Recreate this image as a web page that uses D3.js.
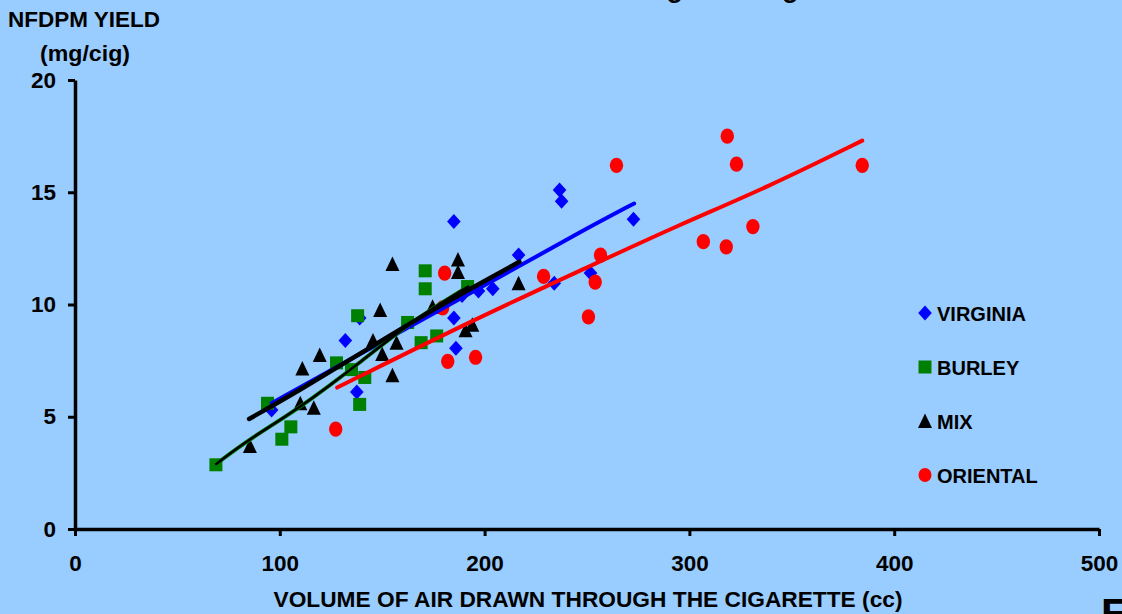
<!DOCTYPE html>
<html>
<head>
<meta charset="utf-8">
<script src="https://cdn.jsdelivr.net/npm/d3@7"></script>
<style>
  body { margin: 0; background: #99ccff; overflow: hidden; }
  svg text { font-family: "Liberation Sans", Arial, sans-serif; font-weight: bold; fill: #000; }
</style>
</head>
<body>
<div id="chart-area"></div>
<script>
// data: [volume (cc), NFDPM yield (mg/cig)]
var virginia = [[96, 5.3], [132, 8.4], [139, 9.4], [137.6, 6.1], [185, 13.7], [185, 9.4],
  [186, 8.05], [189, 10.4], [197, 10.6], [204, 10.7], [216.6, 12.2], [234, 10.95],
  [236.6, 15.1], [237.6, 14.6], [251.7, 11.4], [272.7, 13.8]];
var burley = [[68.8, 2.86], [94, 5.6], [101, 4.0], [105.4, 4.55], [127.7, 7.4], [135, 7.1],
  [138, 9.5], [139, 5.55], [141.5, 6.75], [162.4, 9.2], [169, 8.3], [171, 11.5],
  [171, 10.7], [176.6, 8.6], [191.7, 10.8]];
var mix = [[85.4, 3.7], [110, 5.6], [111, 7.15], [116.6, 5.4], [119.5, 7.75], [145.5, 8.4],
  [149, 9.75], [150, 7.8], [155, 11.8], [155, 6.85], [157, 8.3], [174.6, 9.9], [187, 12.0],
  [187, 11.45], [190.7, 8.85], [194, 9.1], [216.6, 10.95]];
var oriental = [[127.3, 4.45], [179.5, 9.85], [180.5, 11.4], [182, 7.47], [195.6, 7.65],
  [228.8, 11.25], [250.7, 9.45], [254, 11.0], [256.6, 12.2], [264.4, 16.2], [306.8, 12.8],
  [318, 12.57], [318.5, 17.5], [323, 16.25], [331, 13.47], [384.4, 16.2]];

// fitted curves as drawn in the picture
var virginiaFit = [[96, 5.6], [139, 7.8], [207, 11.2], [246, 13.2], [273, 14.5]];
var burleyFit = [[69, 2.9], [85, 4.0], [110, 5.4], [139, 7.4], [165, 9.3], [192, 10.8]];
var mixFit = [[85, 4.9], [110, 6.2], [139, 7.8], [175, 9.8], [217, 11.9]];
var orientalFit = [[128, 6.3], [197.6, 9.45], [250, 11.65], [295, 13.55], [337.6, 15.2], [384.4, 17.3]];

var seriesNames = ["VIRGINIA", "BURLEY", "MIX", "ORIENTAL"];
var xTicks = [0, 100, 200, 300, 400, 500];
var yTicks = [0, 5, 10, 15, 20];

var W = 1122, H = 614;
var svg = d3.select("#chart-area").append("svg")
  .attr("width", W).attr("height", H);

svg.append("rect").attr("width", W).attr("height", H).attr("fill", "#99ccff");

var x = d3.scaleLinear().domain([0, 500]).range([75, 1099]);
var y = d3.scaleLinear().domain([0, 20]).range([529, 80]);

// title (cut off at the top of the picture, only descenders show)
svg.append("text")
  .attr("x", 596).attr("y", -3)
  .attr("text-anchor", "middle")
  .attr("font-size", "27px")
  .text("Volume of Air Drawn Through the Cigarette");

// axes
var yAxis = svg.append("g")
  .attr("transform", "translate(75,0)")
  .call(d3.axisLeft(y).tickValues(yTicks).tickSize(7).tickSizeOuter(0).tickPadding(12));
var xAxis = svg.append("g")
  .attr("transform", "translate(0,529)")
  .call(d3.axisBottom(x).tickValues(xTicks).tickSize(7).tickSizeOuter(0).tickPadding(19));

[xAxis, yAxis].forEach(function(a) {
  a.select(".domain").attr("stroke", "#000").attr("stroke-width", 3.5);
  a.selectAll(".tick line").attr("stroke", "#000").attr("stroke-width", 3);
  a.selectAll(".tick text")
    .attr("font-size", "22.5px")
    .attr("font-family", "'Liberation Sans', Arial, sans-serif")
    .attr("font-weight", "bold")
    .attr("fill", "#000");
});

// axis titles
svg.append("text").attr("x", 8).attr("y", 27).attr("font-size", "22.5px")
  .attr("textLength", 152).attr("lengthAdjust", "spacingAndGlyphs").text("NFDPM YIELD");
svg.append("text").attr("x", 40).attr("y", 61).attr("font-size", "22.5px")
  .attr("textLength", 90).attr("lengthAdjust", "spacingAndGlyphs").text("(mg/cig)");
svg.append("text")
  .attr("x", 588).attr("y", 607)
  .attr("text-anchor", "middle")
  .attr("font-size", "22px")
  .attr("textLength", 629).attr("lengthAdjust", "spacingAndGlyphs")
  .text("VOLUME OF AIR DRAWN THROUGH THE CIGARETTE (cc)");
svg.append("text").attr("x", 1101).attr("y", 628).attr("font-size", "42px").text("E");

// marker shapes
var shapes = {
  diamond: "M0,-7.5L6.8,0L0,7.5L-6.8,0Z",
  square: "M-6.5,-6.5H6.5V6.5H-6.5Z",
  triangle: "M0,-7.5L7,7L-7,7Z"
};

function drawPoints(data, shape, color) {
  var sel = svg.append("g").selectAll("path").data(data).enter();
  if (shape === "circle") {
    sel.append("ellipse")
      .attr("cx", function(d) { return x(d[0]); })
      .attr("cy", function(d) { return y(d[1]); })
      .attr("rx", 6.7).attr("ry", 7.6)
      .attr("fill", color);
  } else {
    sel.append("path")
      .attr("d", shapes[shape])
      .attr("transform", function(d) { return "translate(" + x(d[0]) + "," + y(d[1]) + ")"; })
      .attr("fill", color);
  }
}

drawPoints(virginia, "diamond", "#0000ff");
drawPoints(burley, "square", "#008000");
drawPoints(mix, "triangle", "#000000");
drawPoints(oriental, "circle", "#ff0000");

// fit lines
var line = d3.line()
  .x(function(d) { return x(d[0]); })
  .y(function(d) { return y(d[1]); })
  .curve(d3.curveBasis);

function drawLine(data, color, w) {
  svg.append("path")
    .attr("d", line(data))
    .attr("fill", "none")
    .attr("stroke", color)
    .attr("stroke-width", w)
    .attr("stroke-linecap", "round");
}

drawLine(orientalFit, "#ff0000", 4);
drawLine(virginiaFit, "#0000ff", 4);
drawLine(burleyFit, "#008000", 4);
drawLine(burleyFit, "#000000", 2.5);
drawLine(mixFit, "#000000", 4.5);

// legend
var legendY = [313, 367, 421, 475];
var legendShape = ["diamond", "square", "triangle", "circle"];
var legendColor = ["#0000ff", "#008000", "#000000", "#ff0000"];

seriesNames.forEach(function(name, i) {
  var g = svg.append("g").attr("transform", "translate(925," + legendY[i] + ")");
  if (legendShape[i] === "circle") {
    g.append("ellipse").attr("rx", 6.5).attr("ry", 7).attr("fill", legendColor[i]);
  } else {
    g.append("path").attr("d", shapes[legendShape[i]]).attr("fill", legendColor[i]);
  }
  g.append("text").attr("x", 12).attr("y", 7.5).attr("font-size", "20px").text(name);
});
</script>
</body>
</html>
